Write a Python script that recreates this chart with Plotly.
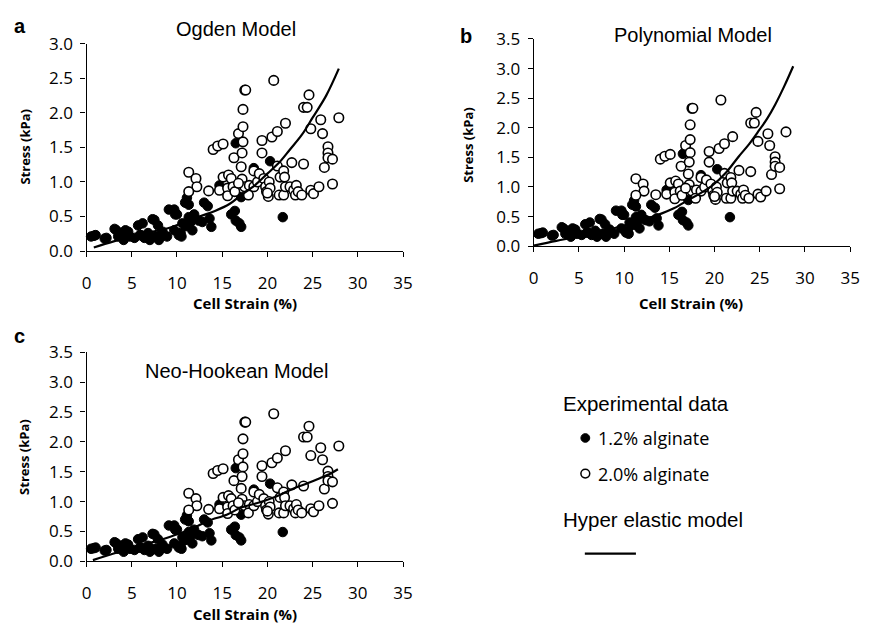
import plotly.graph_objects as go

# ---------------- data ----------------
# 1.2% alginate (filled)
strain_12 = [0.5, 1.0, 2.2, 3.3, 3.5, 3.9, 4.1, 4.6, 4.8, 5.3, 5.7, 6.2, 5.9, 6.4, 6.8, 7.0,
             7.5, 7.9, 7.6, 8.2, 8.0, 8.9, 9.1, 9.7, 9.7, 9.8, 10.4, 10.5, 10.6, 11.1, 11.3,
             11.3, 11.5, 11.7, 11.9, 12.4, 13.0, 13.4, 13.6, 13.8, 14.7, 16.0, 16.5, 16.4,
             16.5, 16.9, 17.1, 17.1, 18.5, 20.3, 21.7, 0.8, 2.0, 3.1, 4.3, 6.0, 7.3, 8.4,
             10.0, 10.2, 10.9, 12.8, 11.0]
stress_12 = [0.21, 0.23, 0.19, 0.30, 0.21, 0.26, 0.16, 0.28, 0.21, 0.19, 0.37, 0.40, 0.23,
             0.19, 0.26, 0.16, 0.45, 0.37, 0.21, 0.23, 0.16, 0.21, 0.60, 0.60, 0.30, 0.53,
             0.26, 0.21, 0.40, 0.77, 0.67, 0.49, 0.42, 0.30, 0.53, 0.44, 0.70, 0.65, 0.47,
             0.35, 0.95, 0.53, 1.56, 0.58, 0.44, 0.40, 0.35, 0.78, 1.20, 1.30, 0.49, 0.22,
             0.18, 0.32, 0.30, 0.23, 0.46, 0.28, 0.53, 0.23, 0.70, 0.42, 0.36]

# 2.0% alginate (open)
strain_20 = [11.3, 12.1, 12.2, 11.3, 13.5, 14.0, 14.5, 15.1, 14.7, 15.1, 15.7, 16.0, 15.6,
             15.6, 16.2, 16.4, 16.3, 16.8, 17.3, 17.5, 17.3, 17.3, 17.2, 17.1, 17.2, 17.5,
             18.0, 17.9, 18.5, 18.9, 18.5, 19.1, 19.4, 19.4, 19.6, 19.8, 19.9, 20.2, 20.3,
             20.1, 20.5, 20.7, 21.1, 21.1, 21.4, 21.3, 21.8, 21.9, 22.0, 21.8, 22.0, 22.5,
             22.7, 22.9, 23.1, 23.2, 23.4, 23.8, 24.0, 24.0, 24.4, 24.6, 24.8, 24.8, 25.1,
             25.7, 25.9, 26.1, 26.3, 26.7, 26.7, 26.7, 27.2, 27.2, 27.9, 17.6, 16.8, 20.0]
stress_20 = [1.14, 1.05, 0.93, 0.86, 0.87, 1.47, 1.52, 1.55, 0.88, 1.07, 1.10, 1.05, 0.91,
             0.80, 0.93, 0.86, 1.35, 1.70, 2.05, 2.33, 1.80, 1.58, 1.42, 1.22, 1.04, 0.93,
             0.95, 0.81, 0.93, 1.00, 1.16, 1.12, 1.42, 1.60, 1.05, 0.93, 0.86, 1.00, 0.91,
             0.79, 1.65, 2.47, 1.73, 1.23, 1.07, 0.81, 1.16, 1.07, 1.85, 0.81, 0.93, 0.93,
             1.28, 0.88, 0.81, 0.95, 0.86, 0.81, 1.26, 2.08, 2.08, 2.26, 1.77, 0.88, 0.83,
             0.93, 1.90, 1.70, 1.21, 1.51, 1.42, 1.35, 1.33, 0.97, 1.93, 2.33, 0.98, 0.84]

# hyper elastic model curves
ogden_x = [0.8, 3.0, 6.6, 9.0, 10.9, 12.5, 14.2, 15.8, 17.1, 18.6, 20.0, 21.3, 22.5, 23.8, 25.0, 26.5, 27.9]
ogden_y = [0.05, 0.14, 0.26, 0.33, 0.42, 0.50, 0.58, 0.68, 0.81, 0.95, 1.12, 1.28, 1.47, 1.68, 1.93, 2.25, 2.64]

poly_x = [0.0, 2.5, 4.9, 7.5, 10.0, 12.0, 13.6, 15.5, 17.2, 18.5, 19.8, 21.3, 22.7, 23.8, 24.8, 25.8, 26.7, 27.7, 28.7]
poly_y = [0.01, 0.09, 0.16, 0.25, 0.35, 0.44, 0.52, 0.64, 0.79, 0.90, 1.03, 1.25, 1.52, 1.72, 1.93, 2.15, 2.39, 2.70, 3.04]

neo_x = [0.7, 3.0, 5.5, 8.0, 10.2, 12.0, 13.5, 15.5, 17.1, 18.5, 20.0, 21.5, 22.9, 24.5, 25.8, 27.0, 27.8]
neo_y = [0.02, 0.13, 0.24, 0.35, 0.46, 0.57, 0.68, 0.78, 0.90, 0.96, 1.03, 1.12, 1.22, 1.31, 1.39, 1.47, 1.54]

x_ticks = [0, 5, 10, 15, 20, 25, 30, 35]
panel_titles = ["Ogden Model", "Polynomial Model", "Neo-Hookean Model"]
panel_letters = ["a", "b", "c"]
y_max = [3.0, 3.5, 3.5]

W, H = 870, 634

def px(x):
    return x / W

def py(y):
    return 1 - y / H

# plot-area boxes in pixels: (left, right, top, bottom)
boxes = [(83, 405, 33, 248), (538, 860, 28, 243), (83, 405, 353, 570)]
curves = [(ogden_x, ogden_y), (poly_x, poly_y), (neo_x, neo_y)]

fig = go.Figure()
TICKFONT = dict(family="Open Sans", size=17, color="black")

for i, (box, (cx, cy)) in enumerate(zip(boxes, curves)):
    sfx = "" if i == 0 else str(i + 1)
    xa, ya = "x" + sfx, "y" + sfx
    fig.add_trace(go.Scatter(x=strain_12, y=stress_12, mode="markers", xaxis=xa, yaxis=ya,
                             marker=dict(symbol="circle", size=9.5, color="black",
                                         line=dict(color="black", width=1)),
                             cliponaxis=False, showlegend=False))
    fig.add_trace(go.Scatter(x=strain_20, y=stress_20, mode="markers", xaxis=xa, yaxis=ya,
                             marker=dict(symbol="circle", size=9.5, color="white",
                                         line=dict(color="black", width=1.6)),
                             cliponaxis=False, showlegend=False))
    fig.add_trace(go.Scatter(x=cx, y=cy, mode="lines", xaxis=xa, yaxis=ya,
                             line=dict(color="black", width=2.2, shape="spline"),
                             cliponaxis=False, showlegend=False))
    l, r, t, b = box
    axcommon = dict(showline=True, linecolor="black", linewidth=1.3, ticks="outside",
                    ticklen=5, tickwidth=1.3, tickcolor="black", showgrid=False,
                    zeroline=False, tickfont=TICKFONT)
    fig.layout["xaxis" + sfx] = dict(domain=[px(l), px(r)], range=[0, 35], tickvals=x_ticks,
                                     anchor=ya, ticklabelstandoff=11, **axcommon)
    fig.layout["yaxis" + sfx] = dict(domain=[py(b), py(t)], range=[0, y_max[i]], dtick=0.5,
                                     tickformat=".1f", anchor=xa, ticklabelstandoff=4, **axcommon)


def text_ann(x, y, text, font, xanchor="center", angle=0):
    return dict(x=px(x), y=py(y), xref="paper", yref="paper", text=text, showarrow=False,
                xanchor=xanchor, yanchor="middle", textangle=angle, font=font)


# annotations: panel letters, titles, axis titles
ann = []
letter_pos = [(15, 15), (469, 25), (15, 336)]
title_pos = [(235, 18), (700, 24), (236, 372)]
xtitle_pos = [(244, 302), (698, 302), (244, 625)]
ytitle_pos = [(20, 140), (471, 138), (20, 462)]
for i in range(3):
    ann.append(text_ann(*letter_pos[i], "<b>%s</b>" % panel_letters[i],
                        dict(family="Liberation Sans", size=20, color="black")))
    ann.append(text_ann(*title_pos[i], panel_titles[i],
                        dict(family="Liberation Sans", size=20, color="black")))
    ann.append(text_ann(*xtitle_pos[i], "<b>Cell Strain (%)</b>",
                        dict(family="Open Sans", size=15, color="black")))
    ann.append(text_ann(*ytitle_pos[i], "<b>Stress (kPa)</b>",
                        dict(family="Open Sans", size=13, color="black"), angle=-90))

# legend block
ann += [
    text_ann(566, 406, "Experimental data", dict(family="Liberation Sans", size=20.5, color="black"), "left"),
    text_ann(601, 442, "1.2% alginate", dict(family="Open Sans", size=18, color="black"), "left"),
    text_ann(601, 479, "2.0% alginate", dict(family="Open Sans", size=18, color="black"), "left"),
    text_ann(566, 527, "Hyper elastic model", dict(family="Liberation Sans", size=20.5, color="black"), "left"),
]
shapes = [
    dict(type="circle", xref="paper", yref="paper", x0=px(586), x1=px(595), y0=py(446.5), y1=py(437.5),
         fillcolor="black", line=dict(color="black", width=1)),
    dict(type="circle", xref="paper", yref="paper", x0=px(586), x1=px(595), y0=py(483.5), y1=py(474.5),
         fillcolor="white", line=dict(color="black", width=1.5)),
    dict(type="line", xref="paper", yref="paper", x0=px(590), x1=px(642), y0=py(562), y1=py(562),
         line=dict(color="black", width=2.2)),
]

fig.update_layout(width=W, height=H, margin=dict(l=0, r=0, t=0, b=0),
                  paper_bgcolor="white", plot_bgcolor="white",
                  annotations=ann, shapes=shapes, showlegend=False)

fig.write_html("out.html")
